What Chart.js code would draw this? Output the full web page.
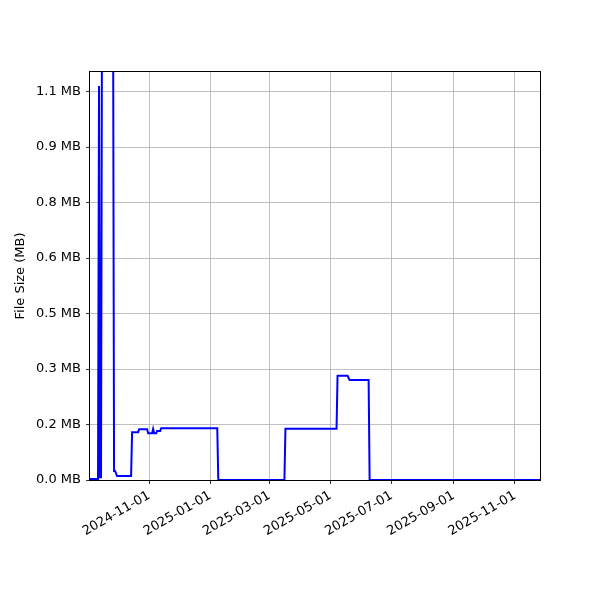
<!DOCTYPE html>
<html>
<head>
<meta charset="utf-8">
<script src="https://cdn.jsdelivr.net/npm/chart.js@4"></script>
<style>html,body{margin:0;padding:0;background:#fff}</style>
</head>
<body>
<canvas id="size-chart" width="600" height="600"></canvas>
<script>
// Dates of each measurement and the file size in bytes on that date
const dates = [
    "2024-09-03", "2024-09-11", "2024-09-12", "2024-09-13", "2024-09-14",
    "2024-09-15", "2024-09-26", "2024-09-27", "2024-09-28", "2024-09-30",
    "2024-10-14", "2024-10-15", "2024-10-21", "2024-10-22", "2024-10-30",
    "2024-10-31", "2024-11-04", "2024-11-05", "2024-11-06", "2024-11-08",
    "2024-11-09", "2024-11-12", "2024-11-13", "2025-01-08", "2025-01-09",
    "2025-03-16", "2025-03-17", "2025-05-07", "2025-05-08", "2025-05-18",
    "2025-05-20", "2025-06-08", "2025-06-09", "2025-11-26"
];
const sizes = [
    3000, 3000, 1136000, 8000, 8000,
    1400000, 1400000, 26000, 26000, 11500,
    11500, 137500, 137500, 146000, 146000,
    134600, 134600, 147000, 134600, 134600,
    141300, 141300, 149000, 149000, 0,
    0, 148000, 148000, 300700, 300700,
    288300, 288300, 0, 0
];

// Axis ticks
const xTickDates = ["2024-11-01", "2025-01-01", "2025-03-01", "2025-05-01", "2025-07-01", "2025-09-01", "2025-11-01"];
const yTickValues = [0, 160000, 320000, 480000, 640000, 800000, 960000, 1120000];
const yTickLabels = ["0.0 MB", "0.2 MB", "0.3 MB", "0.5 MB", "0.6 MB", "0.8 MB", "0.9 MB", "1.1 MB"];

const xStart = "2024-09-03";
const xEnd = "2025-11-26";
const yMax = 1176500;

const font = { family: "DejaVu Sans", size: 13 };

// matplotlib-like box around the plot area
const frame = {
    id: 'frame',
    beforeDatasetsDraw(chart) {
        const { ctx, chartArea: a } = chart;
        ctx.save();
        ctx.strokeStyle = '#000';
        ctx.lineWidth = 1;
        ctx.strokeRect(a.left - 0.5, a.top - 0.5, a.right - a.left + 1, a.bottom - a.top + 1);
        ctx.restore();
    }
};

let canvasElement = document.getElementById('size-chart');

let config = {
    type: 'line',
    data: {
        datasets: [{
            data: dates.map((d, i) => ({ x: Date.parse(d), y: sizes[i] })),
            borderColor: '#0000ff',
            borderWidth: 2,
            pointRadius: 0,
            tension: 0,
            fill: false,
            clip: 0
        }]
    },
    options: {
        responsive: false,
        animation: false,
        devicePixelRatio: 1,
        layout: { padding: { top: 72, right: 60, left: 0, bottom: 0 } },
        plugins: { legend: { display: false }, tooltip: { enabled: false } },
        scales: {
            x: {
                type: 'linear',
                min: Date.parse(xStart),
                max: Date.parse(xEnd),
                afterBuildTicks: s => { s.ticks = xTickDates.map(d => ({ value: Date.parse(d) })); },
                afterFit: s => { s.height = 120; },
                ticks: {
                    autoSkip: false,
                    minRotation: 30,
                    maxRotation: 30,
                    padding: 4,
                    color: '#000',
                    font: font,
                    callback: (v, i) => xTickDates[i]
                },
                grid: { color: '#b0b0b0', lineWidth: 0.8, tickColor: '#000', tickLength: 4 },
                border: { display: false }
            },
            y: {
                type: 'linear',
                min: 0,
                max: yMax,
                afterBuildTicks: s => { s.ticks = yTickValues.map(v => ({ value: v })); },
                afterFit: s => { s.width = 90; },
                ticks: {
                    padding: 5,
                    color: '#000',
                    font: font,
                    callback: (v, i) => yTickLabels[i]
                },
                grid: { color: '#b0b0b0', lineWidth: 0.8, tickColor: '#000', tickLength: 4 },
                border: { display: false },
                title: {
                    display: true,
                    text: 'File Size (MB)',
                    color: '#000',
                    font: font,
                    padding: { top: 13, bottom: 0 }
                }
            }
        }
    },
    plugins: [frame]
};

let sizeChart = new Chart(canvasElement, config);
</script>
</body>
</html>
